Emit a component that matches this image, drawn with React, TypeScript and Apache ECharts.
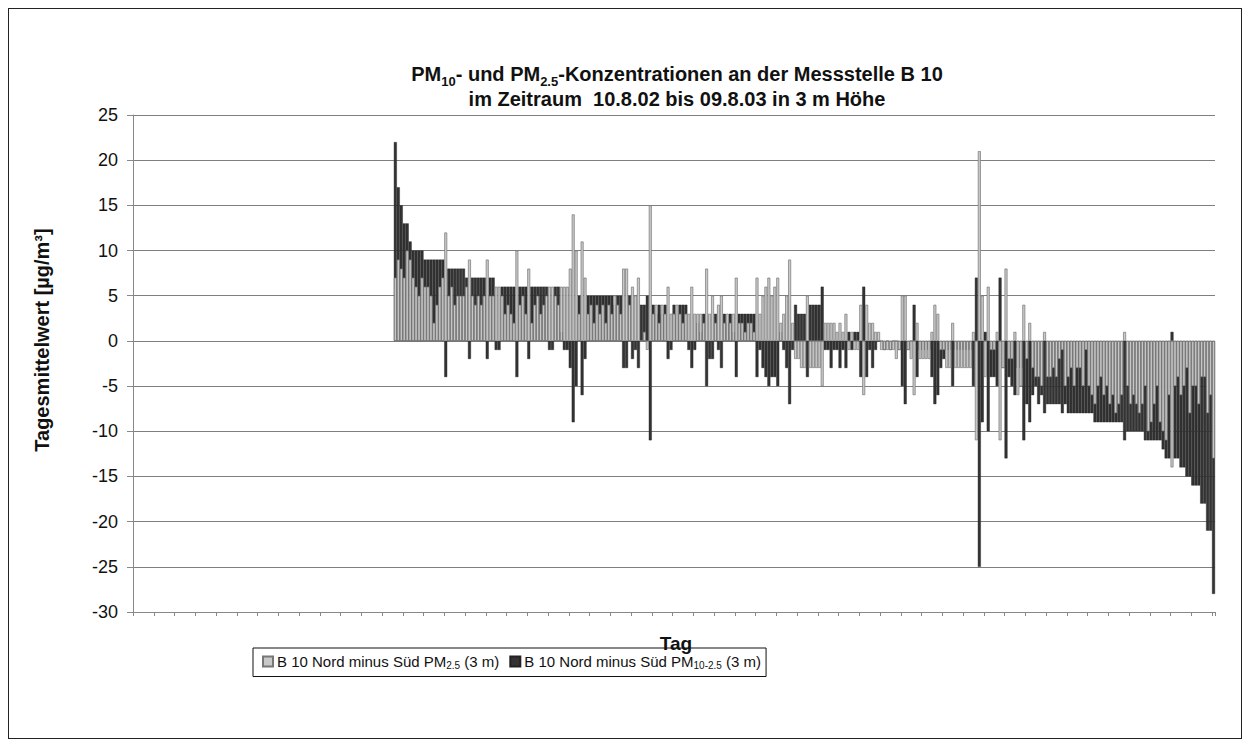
import React, { useEffect, useRef } from "react";
import * as echarts from "echarts";

// 365 days on the category axis; the first 88 have no values
const dayCount = 365;
const emptyDays = 88;

// B 10 Nord minus Süd PM2.5 (3 m), days 89..365
const pm25Diff = [
  7, 9, 8, 7, 10, 9, 7, 6, 5, 7,
  6, 6, 5, 2, 4, 6, 7, 12, 5, 6,
  4, 5, 5, 5, 6, 9, 5, 4, 5, 4,
  5, 9, 5, 5, 6, 6, 5, 3, 4, 3,
  2, 10, 4, 5, 3, 8, 2, 4, 5, 3,
  4, 5, 6, 6, 5, 4, 6, 6, 6, 8,
  14, 10, 3, 11, 7, 3, 4, 2, 4, 3,
  4, 2, 4, 3, 5, 4, 3, 8, 8, 4,
  6, 5, 7, 0, 1, -1, 15, 3, 4, 2,
  4, 3, 6, 3, 3, 4, 3, 2, 3, 3,
  6, 3, 3, 3, 2, 8, 3, 5, 2, 4,
  5, 2, 3, 2, 3, 7, 2, 2, 1, 2,
  2, 1, 7, 3, 5, 6, 7, 5, 6, 7,
  2, 3, 5, 9, 2, -2, -2, -3, -3, 5,
  -3, -3, -3, -3, -5, 2, 2, 2, 2, 1,
  2, 1, 3, -1, 1, -1, -1, 4, -6, 4,
  2, 2, 1, 1, -1, -1, -1, -1, -1, -2,
  -1, 5, 5, -1, -2, -6, 2, -2, -2, -2,
  -2, 1, 4, 3, -1, -1, -3, -3, 2, -3,
  -3, -3, -3, -3, -3, 1, -11, 21, 5, -4,
  6, -1, -1, 1, -11, -3, 8, -2, -2, 1,
  -6, -5, 4, -2, 2, -3, -4, -4, -5, 1,
  -4, -4, -3, -4, -2, -1, -5, -4, -3, -5,
  -3, -3, -5, -1, -5, -6, -7, -5, -4, -6,
  -5, -7, -6, -8, -7, -6, 1, -5, -7, -6,
  -7, -8, -7, -5, -10, -9, -7, -5, -9, -10,
  -11, -6, -14, -5, -4, -6, -5, -3, -8, -5,
  -5, -7, -4, -4, -8, -6, -13,
];

// B 10 Nord minus Süd PM10-2.5 (3 m), days 89..365
const coarseDiff = [
  22, 17, 15, 13, 13, 11, 10, 10, 10, 10,
  9, 9, 9, 9, 9, 9, 9, -4, 8, 8,
  8, 8, 8, 8, 7, -2, 7, 7, 7, 7,
  7, -2, 7, 7, -1, -1, 6, 6, 6, 6,
  6, -4, 6, 6, 6, -2, 6, 6, 6, 6,
  6, 6, -1, -1, 6, 6, 1, -1, -1, -3,
  -9, -5, 5, -6, -2, 5, 5, 5, 5, 5,
  5, 5, 5, 5, 4, 5, 5, -3, -3, 5,
  -2, -1, -3, 4, 4, 5, -11, 4, 3, 4,
  3, 4, -2, -1, 4, 3, 4, 4, 4, -1,
  -3, -1, 2, 1, 3, -5, -2, -2, 3, -1,
  -3, 3, 2, 3, 1, -4, 3, 3, 3, 3,
  3, 3, -4, -1, -3, -4, -5, -4, -4, -5,
  1, -1, -3, -7, -1, 4, 3, 3, 3, -4,
  4, 4, 4, 4, 6, -1, -1, -3, -1, -1,
  -3, -1, -3, 1, -1, 1, 1, -4, 6, -4,
  -1, -3, -1, 0, 0, -1, 0, -1, 0, 0,
  -1, -5, -7, -1, 0, 4, -4, -1, -1, -1,
  -1, -4, -7, -6, -3, -2, -1, -1, -5, -1,
  -1, -1, -1, -1, -1, -5, 7, -25, -9, 1,
  -10, -4, -4, -5, 7, -3, -13, -4, -5, -6,
  -3, -3, -11, -7, -9, -6, -5, -7, -6, -8,
  -7, -7, -7, -7, -7, -8, -7, -8, -8, -8,
  -8, -8, -8, -8, -8, -8, -9, -9, -9, -9,
  -9, -9, -9, -9, -9, -9, -11, -10, -10, -10,
  -10, -10, -10, -11, -11, -11, -11, -11, -11, -12,
  -13, -13, 1, -13, -13, -14, -14, -15, -15, -16,
  -16, -16, -18, -18, -21, -21, -28,
];

const seriesNames = [
  "B 10 Nord minus Süd PM2.5 (3 m)",
  "B 10 Nord minus Süd PM10-2.5 (3 m)",
];
const legendRich = [
  "{t|B 10 Nord minus Süd PM}{s|2.5}{t| (3 m)}",
  "{t|B 10 Nord minus Süd PM}{s|10-2.5}{t| (3 m)}",
];
const titleLines = [
  "{b|PM}{s|10}{b|- und PM}{s|2.5}{b|-Konzentrationen an der Messstelle B 10}",
  "{b|im Zeitraum  10.8.02 bis 09.8.03 in 3 m Höhe}",
];
const yAxisTitle = "Tagesmittelwert [µg/m³]";
const xAxisTitle = "Tag";

const FONT = "'Liberation Sans', Arial, sans-serif";

export default function App() {
  const ref = useRef<HTMLDivElement>(null);

  useEffect(() => {
    if (!ref.current) return;
    const chart = echarts.init(ref.current, undefined, { renderer: "svg" });
    const days = Array.from({ length: dayCount }, (_, i) => String(i + 1));
    const pad = new Array(emptyDays).fill(null);
    const grayData = pad.concat(pm25Diff);
    const blackData = pad.concat(coarseDiff);

    const titleRich = {
      b: { fontSize: 20, fontWeight: "bold", fontFamily: FONT, fill: "#111", color: "#111", lineHeight: 22, verticalAlign: "top" },
      s: { fontSize: 13, fontWeight: "bold", fontFamily: FONT, fill: "#111", color: "#111", lineHeight: 24, verticalAlign: "bottom" },
    };

    chart.setOption({
      animation: false,
      backgroundColor: "#fff",
      textStyle: { fontFamily: FONT },
      grid: { left: 124, top: 106, width: 1082, height: 497 },
      graphic: [
        {
          type: "text",
          x: 668,
          y: 55,
          style: { text: titleLines[0], rich: titleRich, align: "center", verticalAlign: "top", font: `bold 20px ${FONT}` },
        },
        {
          type: "text",
          x: 668,
          y: 90,
          style: {
            text: titleLines[1],
            rich: { b: { ...titleRich.b, lineHeight: 20, verticalAlign: "middle" } },
            align: "center",
            verticalAlign: "middle",
            font: `bold 20px ${FONT}`,
          },
        },
        {
          type: "text",
          x: 33,
          y: 331,
          rotation: Math.PI / 2,
          style: { text: yAxisTitle, align: "center", verticalAlign: "middle", fill: "#111", font: `bold 20px ${FONT}` },
        },
        {
          type: "text",
          x: 667,
          y: 634,
          style: { text: xAxisTitle, align: "center", verticalAlign: "middle", fill: "#111", font: `bold 19px ${FONT}` },
        },
      ],
      legend: {
        left: 244,
        top: 639,
        orient: "horizontal",
        data: [seriesNames[0], seriesNames[1]],
        icon: "rect",
        itemWidth: 10,
        itemHeight: 10,
        itemGap: 10,
        padding: [6, 5, 6, 9],
        borderColor: "#111",
        borderWidth: 1,
        borderRadius: 0,
        formatter: (name: string) => legendRich[seriesNames.indexOf(name)],
        textStyle: {
          fontFamily: FONT,
          fontSize: 15,
          color: "#111",
          padding: [0, 0, 0, -1],
          rich: {
            t: { fontSize: 15, fontFamily: FONT, color: "#111", lineHeight: 18 },
            s: { fontSize: 10, fontFamily: FONT, color: "#111", lineHeight: 18, verticalAlign: "bottom" },
          },
        },
      },
      xAxis: {
        type: "category",
        data: days,
        boundaryGap: true,
        axisLine: { onZero: false, lineStyle: { color: "#888", width: 1 } },
        axisTick: { show: true, interval: 6, length: 4, inside: false, lineStyle: { color: "#888" } },
        axisLabel: { show: false },
        splitLine: { show: false },
      },
      yAxis: {
        type: "value",
        min: -30,
        max: 25,
        interval: 5,
        axisLine: { show: true, lineStyle: { color: "#888", width: 1 } },
        axisTick: { show: true, length: 6, lineStyle: { color: "#888" } },
        axisLabel: { fontSize: 18, color: "#111", fontFamily: FONT, margin: 15 },
        splitLine: { show: true, lineStyle: { color: "#7f7f7f", width: 1 } },
      },
      series: [
        {
          name: seriesNames[1],
          type: "bar",
          data: blackData,
          barCategoryGap: "0%",
          barGap: "-100%",
          itemStyle: { color: "#333333", borderColor: "#222", borderWidth: 0.4 },
          z: 2,
        },
        {
          name: seriesNames[0],
          type: "bar",
          data: grayData,
          barCategoryGap: "0%",
          barGap: "-100%",
          itemStyle: { color: "#c8c8c8", borderColor: "#777", borderWidth: 0.7 },
          z: 3,
        },
      ],
    });

    return () => chart.dispose();
  }, []);

  return (
    <div
      style={{
        width: 1234,
        height: 731,
        border: "1px solid #222",
        boxSizing: "border-box",
        position: "relative",
        background: "#fff",
      }}
    >
      <div ref={ref} style={{ position: "absolute", left: 0, top: 0, width: 1232, height: 729 }} />
    </div>
  );
}
